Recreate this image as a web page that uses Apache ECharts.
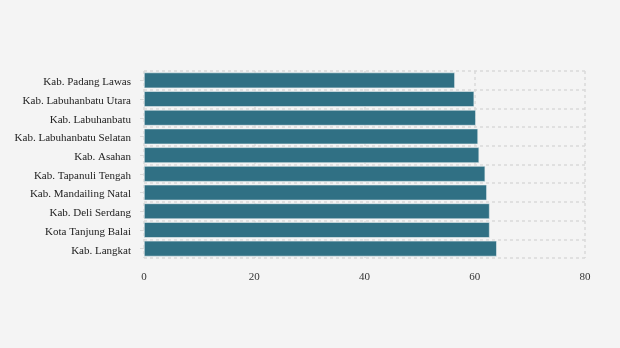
<!DOCTYPE html>
<html><head><meta charset="utf-8">
<script src="https://cdn.jsdelivr.net/npm/echarts@6/dist/echarts.min.js"></script>
<style>html,body{margin:0;padding:0;background:#f4f4f4;}#c{width:620px;height:348px;}</style>
</head><body><div id="c"></div>
<script>
const categories = ["Kab. Padang Lawas","Kab. Labuhanbatu Utara","Kab. Labuhanbatu","Kab. Labuhanbatu Selatan","Kab. Asahan","Kab. Tapanuli Tengah","Kab. Mandailing Natal","Kab. Deli Serdang","Kota Tanjung Balai","Kab. Langkat"];
const values = [56.4, 59.9, 60.2, 60.6, 60.8, 61.9, 62.2, 62.7, 62.7, 64.0];
const xTicks = [0, 20, 40, 60, 80];

const chart = echarts.init(document.getElementById('c'), null, {renderer:'canvas'});
chart.setOption({
  backgroundColor: '#f4f4f4',
  animation: false,
  grid: {left: 144, right: 35, top: 71, bottom: 90},
  xAxis: {
    type: 'value', min: xTicks[0], max: xTicks[xTicks.length-1], interval: 20,
    axisLine: {show: false}, axisTick: {show: false},
    axisLabel: {color: '#333', fontFamily: 'Liberation Serif', fontSize: 11, margin: 14},
    splitLine: {show: true, lineStyle: {color: '#d9d9d9', type: [3,3], width: 1.5}}
  },
  yAxis: {
    type: 'category', data: categories, inverse: true,
    axisLine: {show: false},
    axisTick: {show: true, alignWithLabel: true, length: 4, lineStyle: {color: '#d9d9d9'}},
    axisLabel: {color: '#222', fontFamily: 'Liberation Serif', fontSize: 11, margin: 13, verticalAlign: 'top', lineHeight: 4},
    splitLine: {show: true, lineStyle: {color: '#d9d9d9', type: [3,3], width: 1.5}}
  },
  series: [{
    type: 'bar', data: values, barCategoryGap: '16%',
    itemStyle: {color: '#307084', borderColor: '#e8eef0', borderWidth: 0.6}
  }]
});
</script></body></html>
